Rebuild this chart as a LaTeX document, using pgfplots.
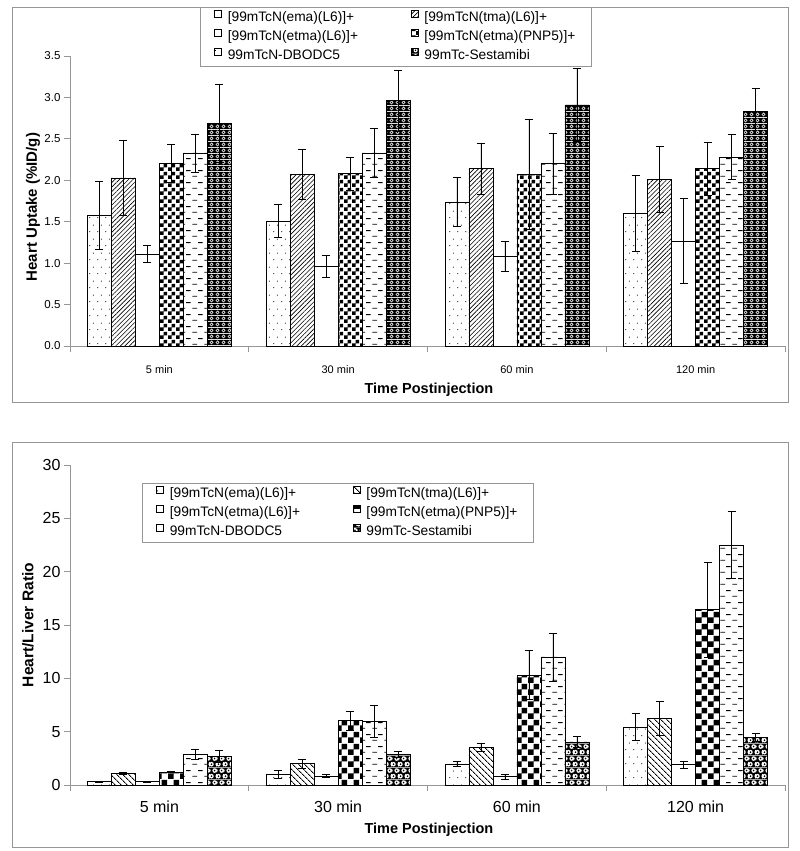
\documentclass[border=0pt]{standalone}
\usepackage{fontspec}
\setmainfont{Liberation Sans}
\usepackage{pgfplots}
\pgfplotsset{compat=1.18}
\usetikzlibrary{patterns,patterns.meta}

\newcommand{\lfont}{\fontsize{13.75}{15}\selectfont}

% sparse staggered dots
\pgfdeclarepatternformonly{dotsA}{\pgfqpoint{0pt}{0pt}}{\pgfqpoint{8pt}{14pt}}{\pgfqpoint{8pt}{14pt}}{%
  \pgfpathcircle{\pgfqpoint{2pt}{3.5pt}}{0.6pt}\pgfpathcircle{\pgfqpoint{6pt}{10.5pt}}{0.6pt}\pgfusepath{fill}}
% checkerboards
\pgfdeclarepatternformonly{checkA}{\pgfqpoint{0pt}{0pt}}{\pgfqpoint{8pt}{8pt}}{\pgfqpoint{8pt}{8pt}}{%
  \pgfpathrectangle{\pgfqpoint{0pt}{0pt}}{\pgfqpoint{4pt}{4pt}}\pgfpathrectangle{\pgfqpoint{4pt}{4pt}}{\pgfqpoint{4pt}{4pt}}\pgfusepath{fill}}
\pgfdeclarepatternformonly{checkB}{\pgfqpoint{0pt}{0pt}}{\pgfqpoint{12pt}{12pt}}{\pgfqpoint{12pt}{12pt}}{%
  \pgfpathrectangle{\pgfqpoint{0pt}{0pt}}{\pgfqpoint{6pt}{6pt}}\pgfpathrectangle{\pgfqpoint{6pt}{6pt}}{\pgfqpoint{6pt}{6pt}}\pgfusepath{fill}}
% staggered dashes
\pgfdeclarepatternformonly{dashA}{\pgfqpoint{0pt}{0pt}}{\pgfqpoint{12pt}{12pt}}{\pgfqpoint{12pt}{12pt}}{%
  \pgfsetlinewidth{0.9pt}%
  \pgfpathmoveto{\pgfqpoint{0.5pt}{3pt}}\pgfpathlineto{\pgfqpoint{5.5pt}{3pt}}%
  \pgfpathmoveto{\pgfqpoint{6.5pt}{9pt}}\pgfpathlineto{\pgfqpoint{11.5pt}{9pt}}\pgfusepath{stroke}}
% black with white rings
\pgfdeclarepatterninherentlycolored{sestaA}{\pgfqpoint{0pt}{0pt}}{\pgfqpoint{5.5pt}{5.5pt}}{\pgfqpoint{5.5pt}{5.5pt}}{%
  \pgfsetfillcolor{black}\pgfpathrectangle{\pgfqpoint{0pt}{0pt}}{\pgfqpoint{5.5pt}{5.5pt}}\pgfusepath{fill}%
  \pgfsetfillcolor{white}\pgfpathcircle{\pgfqpoint{2.75pt}{2.75pt}}{2.15pt}\pgfusepath{fill}%
  \pgfsetfillcolor{black}\pgfpathcircle{\pgfqpoint{2.75pt}{2.75pt}}{0.9pt}\pgfusepath{fill}}
\pgfdeclarepatterninherentlycolored{sestaB}{\pgfqpoint{0pt}{0pt}}{\pgfqpoint{7pt}{12pt}}{\pgfqpoint{7pt}{12pt}}{%
  \pgfsetfillcolor{black}\pgfpathrectangle{\pgfqpoint{0pt}{0pt}}{\pgfqpoint{7pt}{12pt}}\pgfusepath{fill}%
  \pgfsetfillcolor{white}\pgfpathcircle{\pgfqpoint{1.75pt}{3pt}}{2.5pt}\pgfpathcircle{\pgfqpoint{5.25pt}{9pt}}{2.5pt}%
  \pgfpathcircle{\pgfqpoint{8.75pt}{3pt}}{2.5pt}\pgfpathcircle{\pgfqpoint{-1.75pt}{9pt}}{2.5pt}\pgfusepath{fill}%
  \pgfsetfillcolor{black}\pgfpathcircle{\pgfqpoint{1.75pt}{3pt}}{1pt}\pgfpathcircle{\pgfqpoint{5.25pt}{9pt}}{1pt}\pgfusepath{fill}}

\definecolor{axgray}{RGB}{150,150,150}

\pgfplotsset{
  panel/.style={
    scale only axis, width=715pt, xmin=-0.5, xmax=3.5, ymin=0,
    axis x line*=bottom, axis y line*=left,
    axis line style={draw=axgray, line width=0.8pt},
    tick align=outside,
    xtick={0,1,2,3}, xticklabels={5 min,30 min,60 min,120 min},
    major x tick style={draw=none},
    minor xtick={-0.5,0.5,1.5,2.5,3.5},
    minor x tick style={draw=axgray, line width=0.8pt},
    ytick style={draw=axgray, line width=0.8pt},
    major tick length=6pt, minor tick length=6pt,
    ybar, bar width=24pt,
    /pgf/number format/assume math mode=true,
    clip=false,
    legend columns=2, legend cell align=left,
    legend style={draw=axgray, line width=0.8pt, anchor=north west,
      inner xsep=14pt, inner ysep=2.5pt, row sep=3.5pt,
      nodes={text height=10pt, text depth=3pt, inner ysep=1pt, inner xsep=2pt},
      /tikz/every odd column/.append style={column sep=4pt},
      /tikz/every even column/.append style={column sep=51pt}},
  },
  sq/.style={legend image code/.code={\draw[##1,draw=black,line width=0.4pt] (0pt,1pt) rectangle (7pt,8pt);}},
  eb/.style={error bars/.cd, y dir=both, y explicit,
    error bar style={black, line width=0.6pt},
    error mark options={rotate=90, black, mark size=4pt, line width=0.6pt}},
}

\begin{document}
\begin{tikzpicture}
\path[use as bounding box] (0pt,0pt) rectangle (800pt,851pt);
\draw[axgray, line width=1pt] (12pt,448pt) rectangle (788pt,843pt);
\draw[axgray, line width=1pt] (12pt,3pt) rectangle (788pt,408pt);

% ---------------- top panel ----------------
\begin{axis}[panel,
  at={(70pt,505pt)}, anchor=south west, height=290pt, ymax=3.5,
  ytick={0,0.5,...,3.5},
  yticklabel style={font=\fontsize{11.5}{11.5}\selectfont, /pgf/number format/.cd, fixed, fixed zerofill, precision=1},
  xticklabel style={font=\fontsize{11}{11}\selectfont, yshift=-10pt},
  ylabel={Heart Uptake (\%ID/g)},
  ylabel style={at={(axis description cs:-0.0517,0.479)}, anchor=center, font=\bfseries\fontsize{15}{15}\selectfont},
  xlabel={Time Postinjection},
  xlabel style={at={(axis description cs:0.502,-0.152)}, anchor=center, font=\bfseries\fontsize{14.5}{15}\selectfont},
  legend style={at={(0.1818,1.169)}},
]
\addplot[draw=black, line width=0.5pt, pattern=dotsA, bar shift=-60pt, sq, eb] coordinates
  {(0,1.58) +- (0,0.41) (1,1.51) +- (0,0.20) (2,1.74) +- (0,0.30) (3,1.60) +- (0,0.46)};
\addplot[draw=black, line width=0.5pt, pattern={Lines[angle=45,distance=3.2pt,line width=0.6pt]}, bar shift=-36pt, sq, eb] coordinates
  {(0,2.03) +- (0,0.45) (1,2.07) +- (0,0.30) (2,2.14) +- (0,0.31) (3,2.01) +- (0,0.40)};
\addplot[draw=black, line width=0.5pt, fill=white, bar shift=-12pt, sq, eb] coordinates
  {(0,1.11) +- (0,0.10) (1,0.96) +- (0,0.13) (2,1.08) +- (0,0.18) (3,1.27) +- (0,0.51)};
\addplot[draw=black, line width=0.5pt, pattern=checkA, bar shift=12pt, sq, eb] coordinates
  {(0,2.20) +- (0,0.23) (1,2.08) +- (0,0.20) (2,2.07) +- (0,0.66) (3,2.14) +- (0,0.32)};
\addplot[draw=black, line width=0.5pt, pattern=dashA, bar shift=36pt, sq, eb] coordinates
  {(0,2.33) +- (0,0.23) (1,2.33) +- (0,0.30) (2,2.20) +- (0,0.37) (3,2.28) +- (0,0.27)};
\addplot[draw=black, line width=0.5pt, pattern=sestaA, bar shift=60pt, sq, eb] coordinates
  {(0,2.69) +- (0,0.47) (1,2.96) +- (0,0.37) (2,2.91) +- (0,0.44) (3,2.83) +- (0,0.28)};
\legend{\mbox{\lfont[99mTcN(ema)(L6)]+},\mbox{\lfont[99mTcN(tma)(L6)]+},\mbox{\lfont[99mTcN(etma)(L6)]+},\mbox{\lfont[99mTcN(etma)(PNP5)]+},\mbox{\lfont 99mTcN-DBODC5},\mbox{\lfont 99mTc-Sestamibi}}
\end{axis}

% ---------------- bottom panel ----------------
\begin{axis}[panel,
  at={(70pt,66pt)}, anchor=south west, height=320pt, ymax=30,
  ytick={0,5,...,30},
  yticklabel style={font=\fontsize{16}{16}\selectfont},
  xticklabel style={font=\fontsize{16}{16}\selectfont, yshift=-6pt},
  ylabel={Heart/Liver Ratio},
  ylabel style={at={(axis description cs:-0.059,0.5)}, anchor=center, font=\bfseries\fontsize{15.5}{16}\selectfont},
  xlabel={Time Postinjection},
  xlabel style={at={(axis description cs:0.502,-0.14)}, anchor=center, font=\bfseries\fontsize{14.5}{15}\selectfont},
  legend style={at={(0.1007,0.94375)}},
]
\addplot[draw=black, line width=0.5pt, pattern=dotsA, bar shift=-60pt, sq, eb] coordinates
  {(0,0.33) +- (0,0.05) (1,1.02) +- (0,0.38) (2,1.98) +- (0,0.22) (3,5.45) +- (0,1.30)};
\addplot[draw=black, line width=0.5pt, pattern={Lines[angle=-45,distance=4pt,line width=0.9pt]}, bar shift=-36pt, sq, eb] coordinates
  {(0,1.10) +- (0,0.10) (1,2.00) +- (0,0.45) (2,3.50) +- (0,0.38) (3,6.25) +- (0,1.60)};
\addplot[draw=black, line width=0.5pt, fill=white, bar shift=-12pt, sq, eb] coordinates
  {(0,0.32) +- (0,0.03) (1,0.84) +- (0,0.15) (2,0.78) +- (0,0.22) (3,1.90) +- (0,0.32)};
\addplot[draw=black, line width=0.5pt, pattern=checkB, bar shift=12pt, sq, eb] coordinates
  {(0,1.20) +- (0,0.05) (1,6.05) +- (0,0.88) (2,10.30) +- (0,2.30) (3,16.45) +- (0,4.45)};
\addplot[draw=black, line width=0.5pt, pattern=dashA, bar shift=36pt, sq, eb] coordinates
  {(0,2.85) +- (0,0.45) (1,5.95) +- (0,1.50) (2,12.00) +- (0,2.25) (3,22.50) +- (0,3.15)};
\addplot[draw=black, line width=0.5pt, pattern=sestaB, bar shift=60pt, sq, eb] coordinates
  {(0,2.66) +- (0,0.55) (1,2.87) +- (0,0.30) (2,4.05) +- (0,0.55) (3,4.45) +- (0,0.40)};
\legend{\mbox{\lfont[99mTcN(ema)(L6)]+},\mbox{\lfont[99mTcN(tma)(L6)]+},\mbox{\lfont[99mTcN(etma)(L6)]+},\mbox{\lfont[99mTcN(etma)(PNP5)]+},\mbox{\lfont 99mTcN-DBODC5},\mbox{\lfont 99mTc-Sestamibi}}
\end{axis}
\end{tikzpicture}
\end{document}
